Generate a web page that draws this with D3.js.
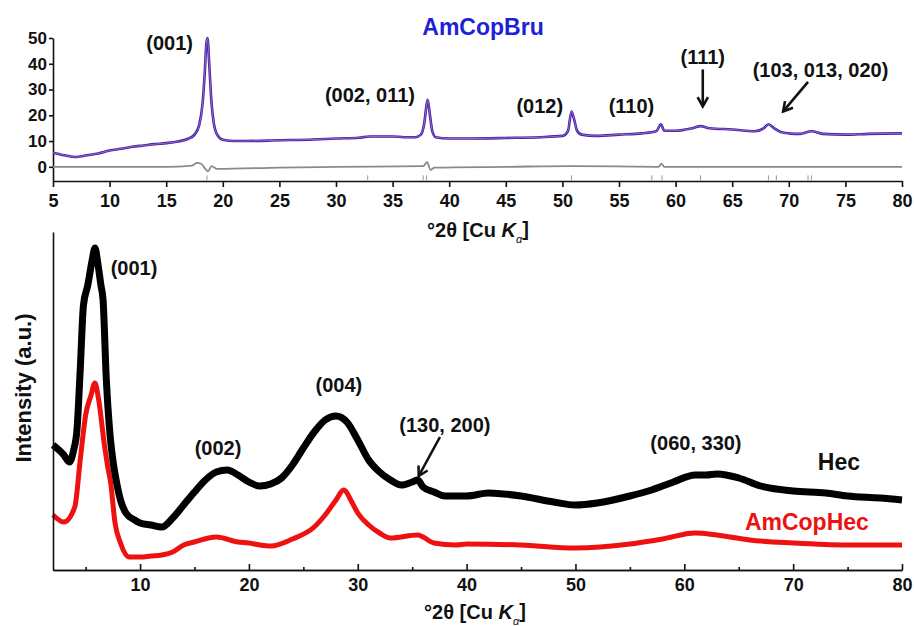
<!DOCTYPE html>
<html>
<head>
<meta charset="utf-8">
<script src="https://cdn.jsdelivr.net/npm/d3@7"></script>
<style>
  body { margin: 0; background: #fff; }
  svg { display: block; font-family: Arial, "Liberation Sans", sans-serif; font-weight: bold; }
</style>
</head>
<body>
<svg id="chart" width="914" height="626"></svg>
<script>
// ---- top panel: AmCopBru refinement (obs / calc / diff) ----
const bruTheta = [5, 6, 7, 8, 9, 10, 11, 12, 13, 14, 15, 16, 17, 17.5, 17.9, 18.2, 18.4, 18.55, 18.65, 18.8, 19.0, 19.2, 19.5, 20, 21, 22, 25, 28, 30, 32, 33, 35, 36, 37, 37.5, 37.8, 38.0, 38.1, 38.3, 38.5, 38.8, 40, 42, 45, 48, 50, 50.5, 50.8, 51.0, 51.3, 51.7, 53, 55, 57, 58.3, 58.7, 59, 60, 61.5, 62.2, 63, 65, 67, 67.8, 68.2, 68.7, 69.3, 70, 71, 72, 73, 75, 77, 80]
const bruObs = [5.5, 4.5, 3.8, 4.5, 5.2, 6.3, 7, 7.8, 8.3, 8.8, 9.2, 9.8, 11, 12.5, 16, 24, 36, 48, 50, 40, 25, 17, 12.5, 10.5, 10, 10, 10.3, 10.6, 11, 11.3, 11.8, 11.8, 11.5, 11.5, 12.5, 17, 24, 26, 20, 14, 11.5, 11, 11, 11.2, 11.5, 12, 14, 21.5, 19, 14, 12.5, 12, 12.5, 13, 13.8, 16.5, 14, 14, 15, 15.8, 15, 14.5, 13.8, 15, 16.5, 15, 13.5, 13, 12.8, 13.8, 12.8, 12.5, 12.8, 13]
const bruCalc = bruObs
const diffTheta = [5, 10, 15, 17.3, 17.7, 18.1, 18.4, 18.7, 19.0, 19.5, 25, 30, 37.7, 38.05, 38.35, 38.7, 45, 50.8, 58.5, 58.75, 59, 65, 80]
const diffVal = [0, 0, 0, 0.5, 1.5, 1.2, -0.5, -1.8, 0.3, -0.8, -0.3, 0, 0.3, 1.8, -1.2, -0.3, 0, 0.3, 0, 1.2, 0, 0, 0]
const braggPos = [18.6, 32.8, 37.7, 38.0, 50.8, 57.9, 58.8, 62.2, 68.2, 68.9, 71.7, 72.0]
const topTicks = [5, 10, 15, 20, 25, 30, 35, 40, 45, 50, 55, 60, 65, 70, 75, 80]
const topYTicks = [0, 10, 20, 30, 40, 50]

// ---- bottom panel: Hec and AmCopHec ----
const hecTheta = [2, 3, 3.5, 3.9, 4.2, 4.5, 4.8, 5.2, 5.6, 5.86, 6.1, 6.4, 6.6, 6.9, 7.2, 7.5, 7.8, 8.2, 8.7, 9.5, 10, 11, 12, 13, 14, 15, 16, 17, 18, 19, 20, 21, 22, 23, 24, 25, 26, 27, 28, 29, 30, 31, 32, 33, 34, 35, 35.5, 36, 37, 38, 40, 42, 45, 48, 50, 52, 55, 57, 59, 61, 62, 63, 65, 67, 70, 73, 75, 78, 80]
const hecInt = [125, 115, 108, 120, 140, 200, 265, 285, 310, 322, 308, 285, 270, 190, 140, 110, 90, 70, 57, 50, 47, 45, 43, 52, 65, 78, 90, 98, 100, 95, 88, 84, 86, 92, 105, 122, 138, 150, 154, 148, 130, 110, 98, 90, 85, 88, 90, 83, 78, 74, 74, 77, 74, 68, 65, 67, 74, 80, 88, 95, 95, 96, 92, 84, 79, 77, 74, 72, 70]
const ampTheta = [2, 3, 4, 4.5, 5, 5.5, 5.85, 6.2, 6.7, 7.0, 7.3, 7.7, 8.2, 9, 10, 11, 12, 13, 14, 15, 17, 19, 20, 21, 22, 24, 26, 27, 28, 28.7, 29.5, 30, 31, 32, 33, 35.5, 37, 39, 40, 45, 50, 55, 58, 61, 63, 66, 70, 75, 80]
const ampInt = [55, 48, 63, 110, 155, 175, 187, 170, 127, 105, 87, 47, 27, 13, 13, 14, 15, 18, 25, 28, 33, 28, 27, 25, 24, 31, 43, 55, 70, 80, 67, 57, 45, 37, 32, 35, 27, 25, 26, 25, 22, 26, 31, 37, 35, 30, 27, 25, 25]
const botTicks = [10, 20, 30, 40, 50, 60, 70, 80]
const botMinor = [5, 15, 25, 35, 45, 55, 65, 75]

// annotations, in data units
const topNotes = [
  { t: '(001)', x: 15.3, y: 48 },
  { t: '(002, 011)', x: 33.0, y: 27.9 },
  { t: '(012)', x: 48.0, y: 23.6 },
  { t: '(110)', x: 56.1, y: 23.6 },
  { t: '(111)', x: 62.4, y: 42.6 },
  { t: '(103, 013, 020)', x: 72.8, y: 37.6 }
]
const topArrows = [
  { x1: 62.4, y1: 37.8, x2: 62.4, y2: 23.5 },
  { x1: 71.7, y1: 33, x2: 69.5, y2: 21.5 }
]
const botNotes = [
  { t: '(001)', x: 9.44, y: 302 },
  { t: '(002)', x: 17.16, y: 122 },
  { t: '(004)', x: 28.27, y: 185 },
  { t: '(130, 200)', x: 38.0, y: 145 },
  { t: '(060, 330)', x: 61.07, y: 127 }
]
const botArrows = [{ x1: 37.55, y1: 133, x2: 35.6, y2: 94 }]

const svg = d3.select('#chart')

svg.append('defs').append('marker')
  .attr('id', 'head')
  .attr('viewBox', '0 0 10 10')
  .attr('refX', 8).attr('refY', 5)
  .attr('markerWidth', 5).attr('markerHeight', 5)
  .attr('orient', 'auto')
  .append('path')
  .attr('d', 'M1,1 L8,5 L1,9')
  .attr('fill', 'none')
  .attr('stroke', '#111')
  .attr('stroke-width', 2)

// ---------- top ----------
const xT = d3.scaleLinear().domain([5, 80]).range([53, 902])
const yT = d3.scaleLinear().domain([-5.5, 50]).range([181, 38])

const styleAxis = g => {
  g.select('.domain').attr('stroke', '#111').attr('stroke-width', 1.6)
  g.selectAll('.tick line').attr('stroke', '#111').attr('stroke-width', 1.6)
  g.selectAll('.tick text').attr('fill', '#111').attr('font-family', 'Arial, "Liberation Sans", sans-serif').attr('font-weight', 'bold')
}

svg.append('g')
  .attr('transform', 'translate(0,181)')
  .call(d3.axisBottom(xT).tickValues(topTicks).tickSize(6).tickSizeOuter(0).tickPadding(7))
  .call(styleAxis)
  .call(g => g.selectAll('.tick text').attr('font-size', 18))

svg.append('g')
  .attr('transform', 'translate(53,0)')
  .call(d3.axisLeft(yT).tickValues(topYTicks).tickSize(4).tickSizeOuter(0).tickPadding(2))
  .call(styleAxis)
  .call(g => g.selectAll('.tick text').attr('font-size', 17))

const lineT = d3.line().x(d => xT(d[0])).y(d => yT(d[1])).curve(d3.curveMonotoneX)

svg.append('g').selectAll('line')
  .data(braggPos)
  .join('line')
  .attr('x1', d => xT(d)).attr('x2', d => xT(d))
  .attr('y1', yT(-3.3)).attr('y2', yT(-5.3))
  .attr('stroke', '#999').attr('stroke-width', 1)

svg.append('path')
  .attr('d', lineT(d3.zip(diffTheta, diffVal)))
  .attr('fill', 'none').attr('stroke', '#8a8a8a').attr('stroke-width', 1.8)

svg.append('path')
  .attr('d', lineT(d3.zip(bruTheta, bruObs)))
  .attr('fill', 'none').attr('stroke', '#2a22c0').attr('stroke-width', 2.6)
  .attr('stroke-linejoin', 'round')

svg.append('path')
  .attr('d', lineT(d3.zip(bruTheta, bruCalc)))
  .attr('fill', 'none').attr('stroke', '#e0708a').attr('stroke-width', 0.8)

svg.append('text')
  .attr('x', 483).attr('y', 27).attr('dy', '0.35em')
  .attr('text-anchor', 'middle').attr('font-size', 23)
  .attr('fill', '#1f1fd6').text('AmCopBru')

svg.append('g').selectAll('text')
  .data(topNotes)
  .join('text')
  .attr('x', d => xT(d.x)).attr('y', d => yT(d.y)).attr('dy', '0.35em')
  .attr('text-anchor', 'middle').attr('font-size', 20).attr('fill', '#111')
  .text(d => d.t)

svg.append('g').selectAll('line')
  .data(topArrows)
  .join('line')
  .attr('x1', d => xT(d.x1)).attr('y1', d => yT(d.y1))
  .attr('x2', d => xT(d.x2)).attr('y2', d => yT(d.y2))
  .attr('stroke', '#111').attr('stroke-width', 2.6)
  .attr('marker-end', 'url(#head)')

const xLabel = (cx, cy) => {
  const t = svg.append('text')
    .attr('x', cx).attr('y', cy).attr('dy', '0.35em')
    .attr('text-anchor', 'middle').attr('font-size', 20).attr('fill', '#111')
  t.append('tspan').text('°2θ [Cu ')
  t.append('tspan').attr('font-style', 'italic').text('K')
  t.append('tspan').attr('font-style', 'italic').attr('font-size', 11).attr('font-weight', 'normal')
    .attr('dy', '0.55em').text('α')
  t.append('tspan').attr('dy', '-0.35em').text(']')
}
xLabel(478, 230)

// ---------- bottom ----------
const xB = d3.scaleLinear().domain([2, 80]).range([53, 902])
const yB = d3.scaleLinear().domain([0, 338]).range([570, 232])
const lineB = d3.line().x(d => xB(d[0])).y(d => yB(d[1])).curve(d3.curveMonotoneX)

svg.append('path')
  .attr('d', lineB(d3.zip(ampTheta, ampInt)))
  .attr('fill', 'none').attr('stroke', '#ee1111').attr('stroke-width', 5)
  .attr('stroke-linejoin', 'round')

svg.append('path')
  .attr('d', lineB(d3.zip(hecTheta, hecInt)))
  .attr('fill', 'none').attr('stroke', '#000').attr('stroke-width', 7)
  .attr('stroke-linejoin', 'round')

svg.append('g')
  .attr('transform', 'translate(0,570)')
  .call(d3.axisBottom(xB).tickValues(botMinor).tickSize(-3).tickSizeOuter(0).tickFormat(''))
  .call(styleAxis)

svg.append('g')
  .attr('transform', 'translate(0,570)')
  .call(d3.axisBottom(xB).tickValues(botTicks).tickSize(-6).tickSizeOuter(0).tickPadding(8))
  .call(styleAxis)
  .call(g => g.selectAll('.tick text').attr('font-size', 18))

svg.append('g')
  .attr('transform', 'translate(53,0)')
  .call(d3.axisLeft(yB).tickValues([]).tickSizeOuter(0))
  .call(styleAxis)

svg.append('text')
  .attr('transform', 'translate(23,388) rotate(-90)')
  .attr('dy', '0.35em').attr('text-anchor', 'middle')
  .attr('font-size', 22).attr('fill', '#111')
  .text('Intensity (a.u.)')

svg.append('g').selectAll('text')
  .data(botNotes)
  .join('text')
  .attr('x', d => xB(d.x)).attr('y', d => yB(d.y)).attr('dy', '0.35em')
  .attr('text-anchor', 'middle').attr('font-size', 20).attr('fill', '#111')
  .text(d => d.t)

svg.append('g').selectAll('line')
  .data(botArrows)
  .join('line')
  .attr('x1', d => xB(d.x1)).attr('y1', d => yB(d.y1))
  .attr('x2', d => xB(d.x2)).attr('y2', d => yB(d.y2))
  .attr('stroke', '#111').attr('stroke-width', 2.6)
  .attr('marker-end', 'url(#head)')

svg.append('text')
  .attr('x', xB(74.2)).attr('y', yB(108)).attr('dy', '0.35em')
  .attr('text-anchor', 'middle').attr('font-size', 23).attr('fill', '#111')
  .text('Hec')

svg.append('text')
  .attr('x', xB(71.26)).attr('y', yB(48)).attr('dy', '0.35em')
  .attr('text-anchor', 'middle').attr('font-size', 23).attr('fill', '#ee1111')
  .text('AmCopHec')

xLabel(475, 612)
</script>
</body>
</html>
